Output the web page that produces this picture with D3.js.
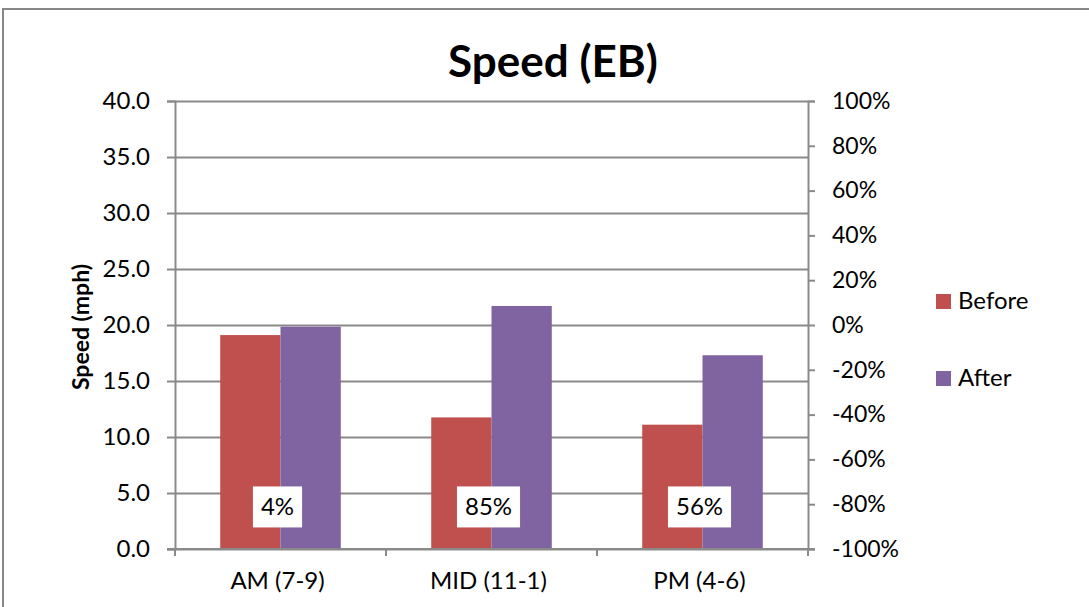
<!DOCTYPE html>
<html>
<head>
<meta charset="utf-8">
<script src="https://cdn.jsdelivr.net/npm/d3@7"></script>
<style>
  body { margin: 0; background: #fff; }
  svg text { font-family: Lato, "Open Sans", sans-serif; fill: #000; }
</style>
</head>
<body>
<div id="chart"></div>
<script>
var categories = ["AM (7-9)", "MID (11-1)", "PM (4-6)"],
    series = ["Before", "After"],
    before = [19.1, 11.75, 11.1],
    after = [19.85, 21.7, 17.3],
    change = ["4%", "85%", "56%"],
    leftTicks = [0, 5, 10, 15, 20, 25, 30, 35, 40],
    rightTicks = [-1, -0.8, -0.6, -0.4, -0.2, 0, 0.2, 0.4, 0.6, 0.8, 1];

var colors = { Before: "#C0504D", After: "#8064A2" },
    gridColor = "#8a8a8a",
    width = 1089, height = 607,
    pLeft = 175, pRight = 808, pTop = 101, pBottom = 549,
    labelAt = -0.81; // where the % labels sit on the secondary axis

var svg = d3.select("#chart").append("svg")
  .attr("width", width)
  .attr("height", height);

// chart border
svg.append("rect")
  .attr("x", 3).attr("y", 9)
  .attr("width", width + 10).attr("height", height + 10)
  .attr("fill", "none")
  .attr("stroke", "#888")
  .attr("stroke-width", 2);

var x = d3.scaleBand().domain(categories).range([pLeft, pRight]),
    xs = d3.scaleBand().domain(series).range([0, x.bandwidth()]).paddingOuter(0.75),
    y = d3.scaleLinear().domain([0, 40]).range([pBottom, pTop]),
    yR = d3.scaleLinear().domain([-1, 1]).range([pBottom, pTop]);

var pctFmt = d3.format(".0%");

// gridlines
svg.append("g")
  .attr("class", "grid")
  .attr("transform", "translate(" + pLeft + ",0)")
  .call(d3.axisLeft(y).tickValues(leftTicks).tickSize(-(pRight - pLeft)).tickFormat(""))
  .call(function(g) {
    g.select(".domain").remove();
    g.selectAll("line").attr("stroke", gridColor).attr("stroke-width", 2);
  });

// bars
var rows = categories.map(function(c, i) {
  return { cat: c, vals: [{ s: "Before", v: before[i] }, { s: "After", v: after[i] }], pct: change[i] };
});

var group = svg.selectAll("g.cat")
  .data(rows)
  .enter().append("g")
  .attr("class", "cat")
  .attr("transform", function(d) { return "translate(" + x(d.cat) + ",0)"; });

group.selectAll("rect")
  .data(function(d) { return d.vals; })
  .enter().append("rect")
  .attr("x", function(d) { return xs(d.s); })
  .attr("width", xs.bandwidth())
  .attr("y", function(d) { return y(d.v); })
  .attr("height", function(d) { return y(0) - y(d.v); })
  .attr("fill", function(d) { return colors[d.s]; });

// left axis
svg.append("g")
  .attr("transform", "translate(" + pLeft + ",0)")
  .call(d3.axisLeft(y).tickValues(leftTicks).tickSize(8).tickPadding(17).tickFormat(d3.format(".1f")))
  .call(function(g) {
    g.select(".domain").attr("stroke", gridColor).attr("stroke-width", 2);
    g.selectAll("line").attr("stroke", gridColor).attr("stroke-width", 2);
    g.selectAll("text").style("font-size", "24px").attr("fill", "#000");
  });

// right axis
svg.append("g")
  .attr("transform", "translate(" + pRight + ",0)")
  .call(d3.axisRight(yR).tickValues(rightTicks).tickSize(7).tickPadding(17)
    .tickFormat(function(d) { return pctFmt(d).replace("\u2212", "-"); }))
  .call(function(g) {
    g.select(".domain").attr("stroke", gridColor).attr("stroke-width", 2);
    g.selectAll("line").attr("stroke", gridColor).attr("stroke-width", 2);
    g.selectAll("text").style("font-size", "23px").attr("fill", "#000");
  });

// bottom axis line + ticks at category boundaries
svg.append("line")
  .attr("x1", pLeft - 8).attr("x2", pRight + 7)
  .attr("y1", pBottom).attr("y2", pBottom)
  .attr("stroke", gridColor).attr("stroke-width", 2);

var edges = categories.map(function(c) { return x(c); }).concat([x(categories[categories.length - 1]) + x.bandwidth()]);
svg.selectAll("line.xtick")
  .data(edges)
  .enter().append("line")
  .attr("class", "xtick")
  .attr("x1", function(d) { return d; }).attr("x2", function(d) { return d; })
  .attr("y1", pBottom).attr("y2", pBottom + 7)
  .attr("stroke", gridColor).attr("stroke-width", 2);

svg.selectAll("text.xlab")
  .data(categories)
  .enter().append("text")
  .attr("class", "xlab")
  .attr("x", function(d) { return x(d) + x.bandwidth() / 2 - 3; })
  .attr("y", 581)
  .attr("dy", ".35em")
  .attr("text-anchor", "middle")
  .style("font-size", "24px")
  .text(function(d) { return d; });

// % change labels
var lab = group.append("g")
  .attr("transform", function() { return "translate(" + (x.bandwidth() / 2 - 3) + "," + yR(labelAt) + ")"; });

lab.append("text")
  .attr("text-anchor", "middle")
  .attr("dy", ".35em")
  .style("font-size", "24px")
  .text(function(d) { return d.pct; })
  .each(function() {
    var bb = this.getBBox();
    d3.select(this.parentNode).insert("rect", "text")
      .attr("x", bb.x - 8).attr("width", bb.width + 16)
      .attr("y", -20).attr("height", 41)
      .attr("fill", "#fff");
  });

// title
svg.append("text")
  .attr("x", 553).attr("y", 62)
  .attr("dy", ".35em")
  .attr("text-anchor", "middle")
  .style("font-size", "44px")
  .style("font-weight", "bold")
  .text("Speed (EB)");

// y title
svg.append("text")
  .attr("transform", "translate(81," + ((pTop + pBottom) / 2 + 2) + ") rotate(-90)")
  .attr("text-anchor", "middle")
  .attr("dy", ".35em")
  .style("font-size", "23px")
  .style("font-weight", "bold")
  .text("Speed (mph)");

// legend
var legend = svg.selectAll("g.legend")
  .data(series)
  .enter().append("g")
  .attr("class", "legend")
  .attr("transform", function(d, i) { return "translate(936," + (301 + i * 77) + ")"; });

legend.append("rect")
  .attr("x", 0).attr("y", -7)
  .attr("width", 15).attr("height", 15)
  .attr("fill", function(d) { return colors[d]; });

legend.append("text")
  .attr("x", 22)
  .attr("dy", ".35em")
  .style("font-size", "24px")
  .text(function(d) { return d; });
</script>
</body>
</html>
